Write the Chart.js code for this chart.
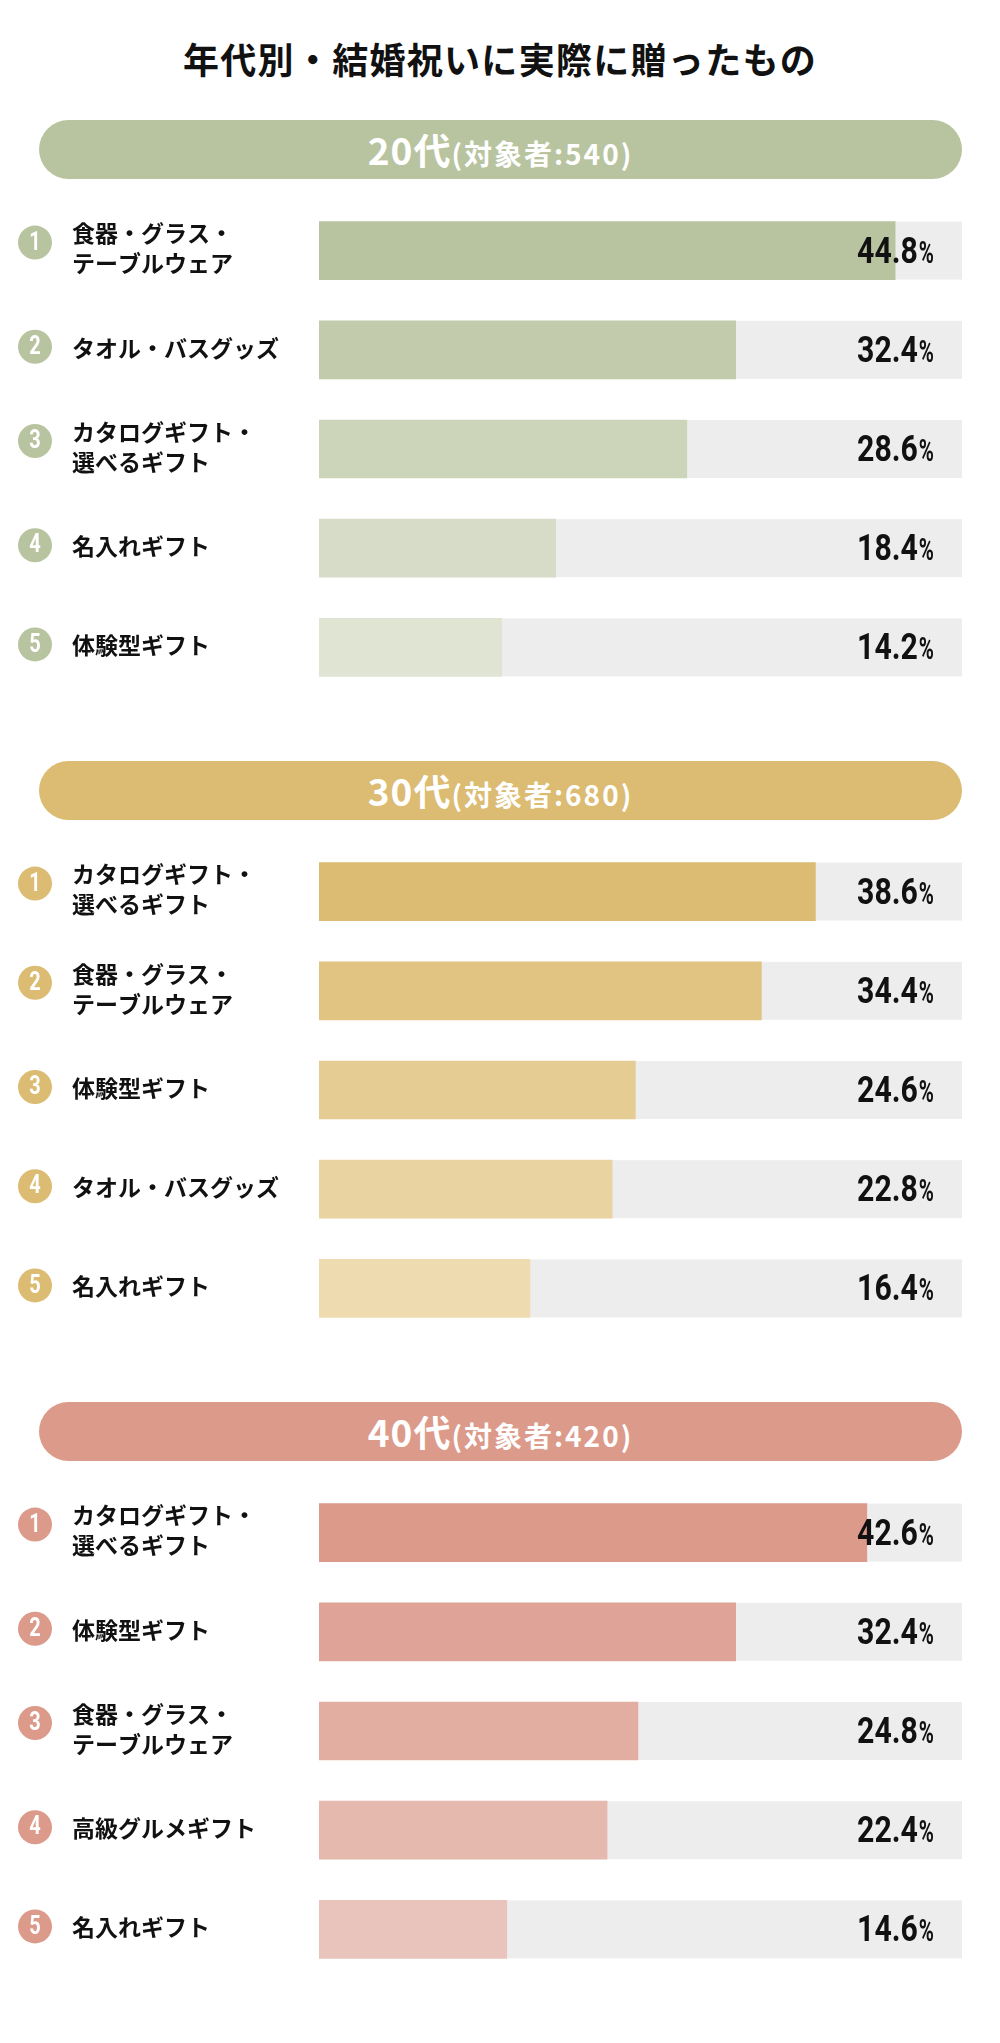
<!DOCTYPE html>
<html lang="ja">
<head>
<meta charset="utf-8">
<script src="https://cdn.jsdelivr.net/npm/chart.js@4/dist/chart.umd.min.js"></script>
<style>
  body { margin: 0; background: #fff; font-family: "Noto Sans CJK JP", sans-serif; }
  #page { position: relative; width: 1000px; height: 2043px; overflow: hidden; }
  h1 { position: absolute; top: 35px; left: 0; width: 1000px; margin: 0; text-align: center;
       font-size: 36px; line-height: 46px; font-weight: 700; color: #111; letter-spacing: 1.3px; }
  .section { position: absolute; left: 0; width: 1000px; height: 600px; }
  .pill { position: absolute; left: 39px; top: 0; width: 923px; height: 59px; border-radius: 30px;
          color: #fff; text-align: center; font-weight: 700; line-height: 59px; }
  .pill .age { font-size: 37px; letter-spacing: 1px; }
  .pill .count { font-size: 28px; letter-spacing: 2px; }
  .section canvas { position: absolute; left: 0; top: 81px; }
</style>
</head>
<body>
<div id="page">
  <h1>年代別・結婚祝いに実際に贈ったもの</h1>
</div>
<script>
// @ts-check

const groups = ['20代', '30代', '40代'];
const respondents = [540, 680, 420];

const labels20 = [['食器・グラス・', 'テーブルウェア'], ['タオル・バスグッズ'], ['カタログギフト・', '選べるギフト'], ['名入れギフト'], ['体験型ギフト']];
const values20 = [44.8, 32.4, 28.6, 18.4, 14.2];

const labels30 = [['カタログギフト・', '選べるギフト'], ['食器・グラス・', 'テーブルウェア'], ['体験型ギフト'], ['タオル・バスグッズ'], ['名入れギフト']];
const values30 = [38.6, 34.4, 24.6, 22.8, 16.4];

const labels40 = [['カタログギフト・', '選べるギフト'], ['体験型ギフト'], ['食器・グラス・', 'テーブルウェア'], ['高級グルメギフト'], ['名入れギフト']];
const values40 = [42.6, 32.4, 24.8, 22.4, 14.6];

const axisMax = 50;

const pillColors = ['#b8c4a0', '#dcbb72', '#dc9a8a'];
const barColors = [
  ['#b8c4a0', '#c2cbac', '#ccd4ba', '#d6dcc7', '#dfe4d3'],
  ['#dcbb72', '#e1c482', '#e5cc92', '#e9d3a0', '#eedcb0'],
  ['#dc9a8a', '#dfa497', '#e2aea2', '#e5b9ae', '#e8c4bc']
];

const allLabels = [labels20, labels30, labels40];
const allValues = [values20, values30, values40];

const page = document.getElementById('page');

// draw text squeezed horizontally (the original uses a condensed face)
function squeezed(ctx, text, x, y, sx, align) {
  ctx.save();
  ctx.translate(x, y);
  ctx.scale(sx, 1);
  ctx.textAlign = align;
  ctx.fillText(text, 0, 0);
  ctx.restore();
  return ctx.measureText(text).width * sx;
}

groups.forEach((group, g) => {
  const section = document.createElement('div');
  section.className = 'section';
  section.style.top = (120 + 641 * g) + 'px';

  const pill = document.createElement('div');
  pill.className = 'pill';
  pill.style.background = pillColors[g];
  pill.innerHTML = '<span class="age">' + group + '</span><span class="count">(対象者:' + respondents[g] + ')</span>';
  section.appendChild(pill);

  const canvas = document.createElement('canvas');
  canvas.width = 1000;
  canvas.height = 496;
  canvas.style.width = '1000px';
  canvas.style.height = '496px';
  section.appendChild(canvas);
  page.appendChild(section);

  const rowDecor = {
    id: 'rowDecor',
    beforeDatasetsDraw(chart) {
      const { ctx, chartArea, scales } = chart;
      ctx.save();
      ctx.fillStyle = '#ededed';
      allValues[g].forEach((v, i) => {
        const y = scales.y.getPixelForValue(i);
        ctx.fillRect(chartArea.left, y - 29, chartArea.right - chartArea.left, 58);
      });
      ctx.restore();
    },
    afterDatasetsDraw(chart) {
      const { ctx, scales } = chart;
      ctx.save();
      allLabels[g].forEach((lines, i) => {
        const y = scales.y.getPixelForValue(i);
        const two = lines.length > 1;
        const cy = two ? y - 8 : y - 3;

        // rank badge
        ctx.beginPath();
        ctx.arc(35, cy, 17, 0, Math.PI * 2);
        ctx.fillStyle = pillColors[g];
        ctx.fill();
        ctx.fillStyle = '#fff';
        ctx.font = 'bold 25px Roboto';
        ctx.textBaseline = 'middle';
        squeezed(ctx, String(i + 1), 35, cy + 1, 0.8, 'center');

        // category label
        ctx.fillStyle = '#111';
        ctx.font = 'bold 23px "Noto Sans CJK JP"';
        ctx.textAlign = 'left';
        if (two) {
          ctx.fillText(lines[0], 72, y - 17);
          ctx.fillText(lines[1], 72, y + 13);
        } else {
          ctx.fillText(lines[0], 72, y - 2);
        }

        // value label
        ctx.textBaseline = 'alphabetic';
        ctx.font = 'bold 31px Roboto';
        const pw = squeezed(ctx, '%', 934, y + 12, 0.66, 'right');
        ctx.font = 'bold 36px Roboto';
        squeezed(ctx, allValues[g][i].toFixed(1), 934 - pw - 1, y + 12, 0.84, 'right');
      });
      ctx.restore();
    }
  };

  // @ts-ignore
  new Chart(canvas, {
    type: 'bar',
    data: {
      labels: allLabels[g],
      datasets: [{
        data: allValues[g],
        backgroundColor: barColors[g],
        barThickness: 58,
        borderWidth: 0
      }]
    },
    options: {
      indexAxis: 'y',
      responsive: false,
      animation: false,
      layout: { padding: { left: 319, right: 38, top: 0, bottom: 0 } },
      scales: {
        x: { display: false, min: 0, max: axisMax },
        y: { display: false }
      },
      plugins: {
        legend: { display: false },
        tooltip: { enabled: false }
      }
    },
    plugins: [rowDecor]
  });
});
</script>
</body>
</html>
